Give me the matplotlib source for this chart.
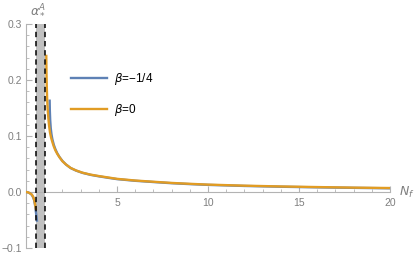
import matplotlib
matplotlib.use('Agg')
import matplotlib.pyplot as plt
import numpy as np

plt.rcParams['font.family'] = ['Liberation Sans', 'DejaVu Sans']
plt.rcParams['mathtext.fontset'] = 'dejavusans'

# values
band = [0.565, 1.06]

nf_neg_b0 = [0.0, 0.1, 0.2, 0.3, 0.35, 0.4, 0.45, 0.5, 0.54]
al_neg_b0 = [0.0, -0.0005, -0.002, -0.004, -0.006, -0.009, -0.014, -0.022, -0.030]
nf_neg_bm = [0.0, 0.1, 0.2, 0.3, 0.35, 0.4, 0.45, 0.5, 0.55, 0.6]
al_neg_bm = [0.0, -0.0005, -0.002, -0.0045, -0.007, -0.010, -0.015, -0.024, -0.037, -0.051]

nf_pos_b0 = [1.115, 1.125, 1.14, 1.16, 1.19, 1.23, 1.27, 1.32, 1.38, 1.45, 1.53, 1.62, 1.72,
             1.84, 2.0, 2.2, 2.45, 2.75, 3.1, 3.55, 4.0, 4.5, 5.0, 6.0, 7.0, 8.0, 9.0, 10.0,
             12.0, 14.0, 16.0, 18.0, 20.0]
al_pos_b0 = [0.243, 0.215, 0.190, 0.168, 0.148, 0.131, 0.118, 0.106, 0.097, 0.089, 0.081,
             0.074, 0.068, 0.062, 0.055, 0.049, 0.043, 0.0385, 0.0345, 0.031, 0.0285, 0.026,
             0.0235, 0.0205, 0.0183, 0.0162, 0.0146, 0.0132, 0.0113, 0.0099, 0.0088, 0.0078,
             0.0071]
nf_pos_bm = [1.30, 1.31, 1.33, 1.36, 1.40, 1.45, 1.53, 1.62, 1.72, 1.84, 2.0, 2.2, 2.45,
             2.75, 3.1, 3.55, 4.0, 4.5, 5.0, 6.0, 7.0, 8.0, 9.0, 10.0, 12.0, 14.0, 16.0,
             18.0, 20.0]
al_pos_bm = [0.163, 0.145, 0.128, 0.114, 0.103, 0.094, 0.084, 0.076, 0.069, 0.0625, 0.0555,
             0.049, 0.0428, 0.0382, 0.0342, 0.0306, 0.028, 0.0254, 0.023, 0.020, 0.0178,
             0.0157, 0.0141, 0.0127, 0.0108, 0.0094, 0.0083, 0.0074, 0.0066]

blue = '#5E81B5'
orange = '#E19C24'
axcol = '#b3b3b3'
txtcol = '#7f7f7f'

fig = plt.figure(figsize=(4.15, 2.57), dpi=100)
ax = fig.add_axes([26 / 415, 9 / 257, 364 / 415, 224 / 257])

ax.axvspan(band[0], band[1], color='#c0c0c0', lw=0, zorder=1)
for xb in band:
    ax.axvline(xb, color='black', ls=(0, (3.5, 2.5)), lw=1.1, zorder=4)

ax.plot(nf_neg_bm, al_neg_bm, color=blue, lw=1.7, zorder=3)
ax.plot(nf_neg_b0, al_neg_b0, color=orange, lw=1.7, zorder=3)
ax.plot(nf_pos_bm, al_pos_bm, color=blue, lw=1.7, zorder=3, label=r'$\beta$=−1/4')
ax.plot(nf_pos_b0, al_pos_b0, color=orange, lw=1.7, zorder=3, label=r'$\beta$=0')

ax.set_xlim(0, 20)
ax.set_ylim(-0.1, 0.3)
ax.spines['left'].set_position(('data', 0))
ax.spines['bottom'].set_position(('data', 0))
ax.spines['top'].set_visible(False)
ax.spines['right'].set_visible(False)
for s in ('left', 'bottom'):
    ax.spines[s].set_color(axcol)
    ax.spines[s].set_linewidth(0.8)
ax.patch.set_visible(False)

ax.set_xticks([5, 10, 15, 20])
ax.set_xticks(np.arange(1, 21), minor=True)
ax.set_yticks([-0.1, 0.0, 0.1, 0.2, 0.3])
ax.set_yticks(np.arange(-0.1, 0.301, 0.02), minor=True)
ax.set_yticklabels(['−0.1', '0.0', '0.1', '0.2', '0.3'])
ax.tick_params(which='both', direction='in', color=axcol, labelcolor=txtcol, labelsize=7.5)
ax.tick_params(which='major', length=4, width=0.8)
ax.tick_params(which='minor', length=2, width=0.6)
ax.tick_params(axis='x', pad=4)
ax.tick_params(axis='y', pad=3)

ax.text(0.2, 0.312, r'$\alpha_*^A$', color=txtcol, fontsize=9, ha='left', va='bottom')
ax.text(20.5, 0.0, r'$N_f$', color=txtcol, fontsize=9, ha='left', va='center', clip_on=False)

ax.legend(loc='upper left', bbox_to_anchor=(0.123, 0.79), frameon=False, fontsize=8.5,
          handlelength=3.1, handletextpad=0.6, labelspacing=1.3, borderpad=0, borderaxespad=0)

fig.savefig('out.png', dpi=100)
